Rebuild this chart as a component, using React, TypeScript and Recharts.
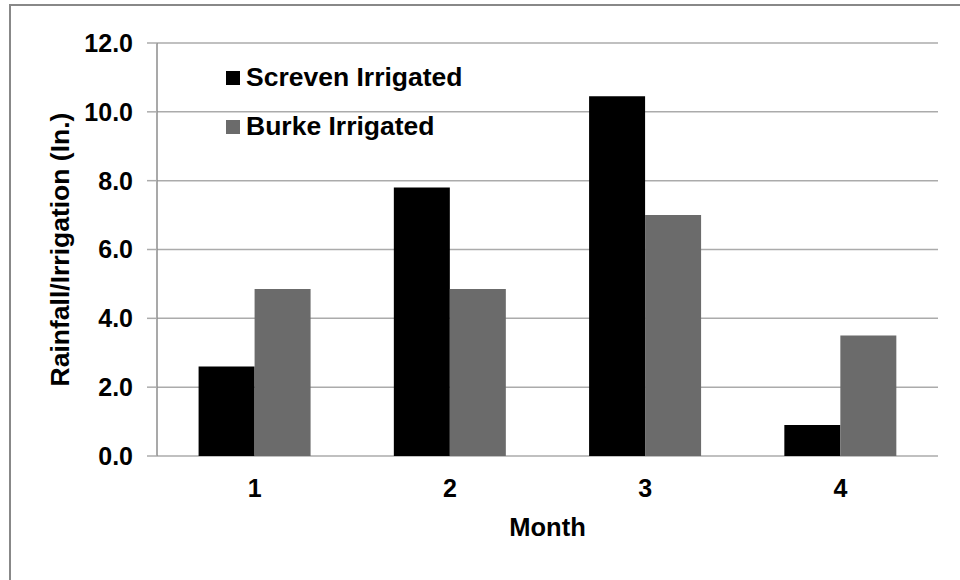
import { BarChart, Bar, XAxis, YAxis, CartesianGrid, Legend, Label } from "recharts";

const months = ["1", "2", "3", "4"];
const seriesNames = ["Screven Irrigated", "Burke Irrigated"];
const screvenIrrigated = [2.6, 7.8, 10.45, 0.9];
const burkeIrrigated = [4.85, 4.85, 7.0, 3.5];
const yTicks = [0, 2, 4, 6, 8, 10, 12];
const monthEdges = [0, 1, 2, 3, 4];

const data = months.map((m, i) => ({
  month: m,
  screven: screvenIrrigated[i],
  burke: burkeIrrigated[i],
}));

const FONT = '"Liberation Sans", Arial, sans-serif';
const AXIS_GRAY = "#8c8c8c";
const GRID_GRAY = "#ababab";

// keep series order (Legend sorts by name otherwise)
function LegendBox({ payload }: any) {
  const items = [...(payload || [])].sort(
    (a: any, b: any) => seriesNames.indexOf(a.value) - seriesNames.indexOf(b.value)
  );
  return (
    <div style={{ fontFamily: FONT, fontWeight: 700, fontSize: 26.5, color: "#000" }}>
      {items.map((p: any) => (
        <div key={p.value} style={{ display: "flex", alignItems: "center", height: 49 }}>
          <span style={{ width: 14, height: 14, background: p.color, marginRight: 6 }} />
          <span>{p.value}</span>
        </div>
      ))}
    </div>
  );
}

function YTitle({ viewBox }: any) {
  const cy = viewBox.y + viewBox.height / 2;
  return (
    <text
      x={60}
      y={cy}
      transform={`rotate(-90, 60, ${cy})`}
      textAnchor="middle"
      dominantBaseline="central"
      fontFamily={FONT}
      fontWeight={700}
      fontSize={26.5}
      fill="#000"
    >
      Rainfall/Irrigation (In.)
    </text>
  );
}

export default function App() {
  return (
    <div style={{ position: "absolute", left: 0, top: 0, width: 960, height: 580, overflow: "hidden", background: "#fff" }}>
      {/* frame runs off the right and bottom edges */}
      <div
        style={{
          position: "absolute", left: 9, top: 4, width: 1000, height: 1000,
          borderTop: "2px solid #888", borderLeft: "2px solid #888",
        }}
      />
      <div style={{ position: "absolute", left: 0, top: 0 }}>
        <BarChart
          width={960}
          height={580}
          data={data}
          margin={{ top: 43, right: 22, left: 0, bottom: 0 }}
          barCategoryGap="21.3%"
          barGap={0}
        >
          <CartesianGrid horizontal vertical={false} stroke={GRID_GRAY} strokeWidth={1.5} />
          {/* edge ticks between months */}
          <XAxis
            xAxisId="edges"
            type="number"
            domain={[0, 4]}
            ticks={monthEdges}
            tick={false}
            tickSize={8}
            height={0}
            axisLine={{ stroke: AXIS_GRAY, strokeWidth: 1.5 }}
            tickLine={{ stroke: AXIS_GRAY, strokeWidth: 1.5 }}
          />
          <XAxis
            xAxisId="months"
            dataKey="month"
            height={124}
            axisLine={false}
            tickLine={false}
            tickMargin={17}
            tick={{ fontFamily: FONT, fontWeight: 700, fontSize: 25, fill: "#000" }}
          >
            <Label
              value="Month"
              position="insideBottom"
              offset={44}
              style={{ fontFamily: FONT, fontWeight: 700, fontSize: 25.5, fill: "#000" }}
            />
          </XAxis>
          <YAxis
            width={157}
            domain={[0, 12]}
            ticks={yTicks}
            tickFormatter={(v: number) => v.toFixed(1)}
            tickSize={10}
            tickMargin={14}
            axisLine={{ stroke: AXIS_GRAY, strokeWidth: 1.5 }}
            tickLine={{ stroke: GRID_GRAY, strokeWidth: 1.5 }}
            tick={{ fontFamily: FONT, fontWeight: 700, fontSize: 25, fill: "#000" }}
          >
            <Label content={<YTitle />} />
          </YAxis>
          <Legend
            layout="vertical"
            align="center"
            verticalAlign="middle"
            content={<LegendBox />}
            wrapperStyle={{ left: 226, top: 53, width: 320 }}
          />
          <Bar xAxisId="months" dataKey="screven" name={seriesNames[0]} fill="#000000" isAnimationActive={false} />
          <Bar xAxisId="months" dataKey="burke" name={seriesNames[1]} fill="#6b6b6b" isAnimationActive={false} />
        </BarChart>
      </div>
    </div>
  );
}
